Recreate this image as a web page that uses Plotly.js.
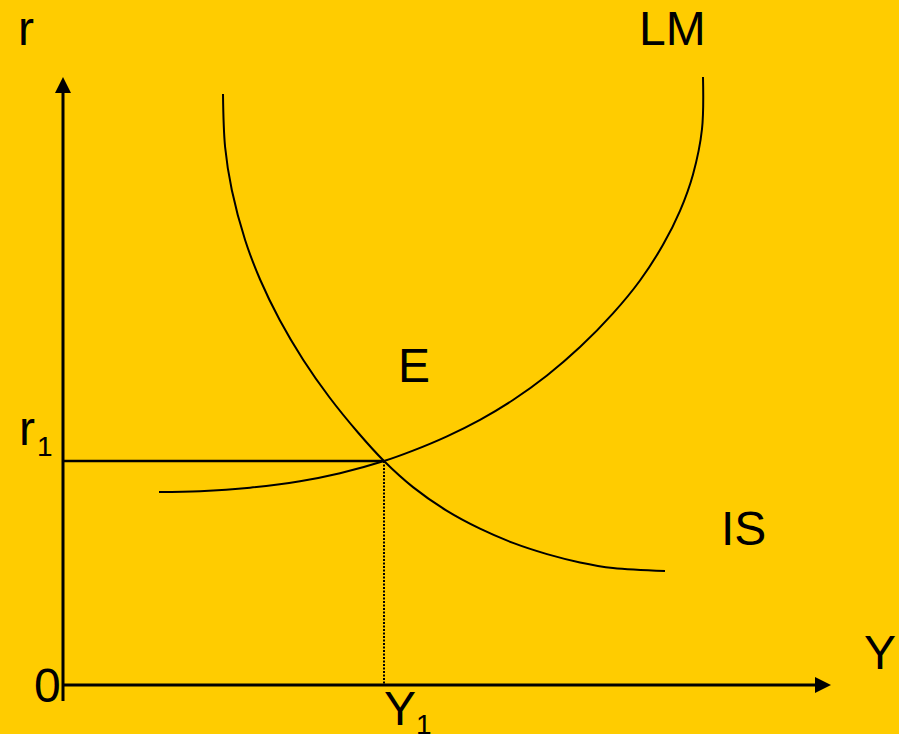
<!DOCTYPE html>
<html>
<head>
<meta charset="utf-8">
<script src="https://cdn.plot.ly/plotly-3.0.1.min.js"></script>
<style>html,body{margin:0;padding:0;background:#FFCC00;}#chart{width:899px;height:734px;}</style>
</head>
<body>
<div id="chart"></div>
<script>
// IS curve (output Y, interest rate r)
const isY = [160, 162.1, 168.8, 182.1, 197.3, 216.7, 240.3, 266.2, 295.4, 321, 350, 384, 417, 450, 484, 517, 550, 602];
const isR = [591, 538, 495, 445, 405, 365, 325, 288, 252, 224, 197.9, 174.1, 156.3, 142.1, 130.9, 122.6, 117, 114];
// LM curve
const lmY = [96, 137, 187, 237, 277, 321, 350, 384, 417, 450, 484, 517, 550, 577, 600, 617, 630, 639, 640];
const lmR = [193, 193.8, 197.3, 203.8, 211.8, 224, 234.4, 248.7, 265.2, 285, 309.5, 337.9, 371.6, 404.5, 440.2, 474.2, 510.6, 556, 608];
// equilibrium
const eqY = 321, eqR = 224;
// axes extents
const axisYmax = 768, axisRmax = 608, axisRmin = -16;
// labels
const labels = [
  {t: 'r', x: -37, y: 656.6, s: 48, a: 'center'},
  {t: 'LM', x: 609, y: 656.6, s: 48, a: 'center'},
  {t: 'E', x: 351, y: 319.6, s: 48, a: 'center'},
  {t: 'IS', x: 680, y: 156.6, s: 48, a: 'center'},
  {t: 'Y', x: 817, y: 32.6, s: 48, a: 'center'},
  {t: '0', x: -16, y: -0.4, s: 48, a: 'center'},
  {t: 'r', x: -27, y: 256.6, s: 48, a: 'right'},
  {t: '1', x: -27, y: 238.7, s: 28, a: 'left'},
  {t: 'Y', x: 320, y: -23.4, s: 48, a: 'left'},
  {t: '1', x: 352, y: -39.5, s: 28, a: 'left'}
];

const blk = '#000000';
const traces = [
  {x: isY, y: isR, mode: 'lines', line: {color: blk, width: 2, shape: 'spline', smoothing: 1}},
  {x: lmY, y: lmR, mode: 'lines', line: {color: blk, width: 2, shape: 'spline', smoothing: 1}},
  {x: [0, eqY], y: [eqR, eqR], mode: 'lines', line: {color: blk, width: 2.5}},
  {x: [eqY, eqY], y: [eqR, 0], mode: 'lines', line: {color: blk, width: 2, dash: '2px,1.5px'}},
  {x: [0, 0], y: [axisRmin, axisRmax - 10], mode: 'lines', line: {color: blk, width: 3}},
  {x: [0, axisYmax - 10], y: [0, 0], mode: 'lines', line: {color: blk, width: 3}},
  {x: [0], y: [axisRmax], mode: 'markers', marker: {symbol: 'arrow-up', size: 16, color: blk, line: {width: 0}}},
  {x: [axisYmax], y: [0], mode: 'markers', marker: {symbol: 'arrow-right', size: 16, color: blk, line: {width: 0}}}
];

const font = 'Liberation Sans, Arial, Helvetica, sans-serif';
const layout = {
  width: 899, height: 734,
  margin: {l: 0, r: 0, t: 0, b: 0, pad: 0},
  paper_bgcolor: '#FFCC00', plot_bgcolor: '#FFCC00',
  showlegend: false, hovermode: false,
  xaxis: {range: [-63, 836], visible: false, fixedrange: true},
  yaxis: {range: [-49, 685], visible: false, fixedrange: true},
  annotations: labels.map(l => ({
    text: l.t, x: l.x, y: l.y, xref: 'x', yref: 'y',
    xanchor: l.a, yanchor: 'middle', showarrow: false, borderpad: 0,
    font: {family: font, size: l.s, color: blk}
  }))
};
Plotly.newPlot('chart', traces, layout, {displayModeBar: false, staticPlot: true});
</script>
</body>
</html>
